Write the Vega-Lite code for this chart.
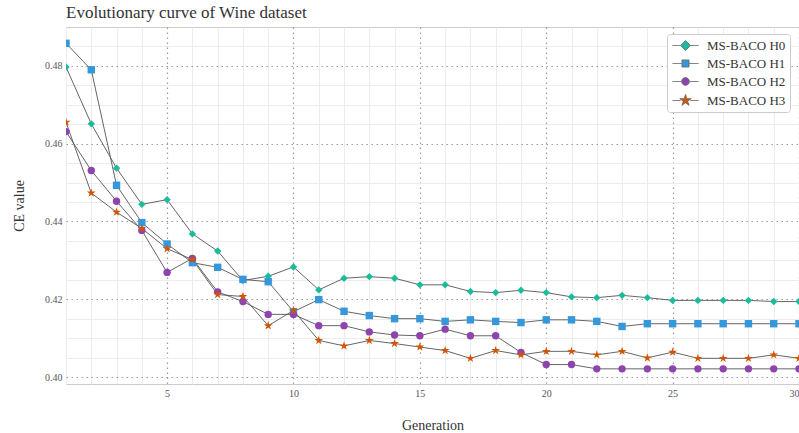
{
  "$schema": "https://vega.github.io/schema/vega-lite/v6.json",
  "width": 733,
  "height": 357,
  "autosize": "none",
  "padding": {"left": 66, "top": 27, "right": 0, "bottom": 49},
  "background": "white",
  "title": {"text": "Evolutionary curve of Wine dataset", "anchor": "start", "frame": "group", "font": "Liberation Serif", "fontSize": 17, "fontWeight": "normal", "color": "#333", "offset": 5},
  "config": {
    "view": {"stroke": "#cccccc", "strokeWidth": 1},
    "axis": {"domain": false, "ticks": false, "labelFont": "Liberation Serif", "labelFontSize": 10, "labelColor": "#555", "titleFont": "Liberation Serif", "titleFontSize": 14, "titleFontWeight": "normal", "titleColor": "#333"}
  },
  "data": {"values": [
    {"g":1,"s":"MS-BACO H0","v":0.4797},{"g":2,"s":"MS-BACO H0","v":0.4651},{"g":3,"s":"MS-BACO H0","v":0.4537},{"g":4,"s":"MS-BACO H0","v":0.4444},{"g":5,"s":"MS-BACO H0","v":0.4456},{"g":6,"s":"MS-BACO H0","v":0.4368},{"g":7,"s":"MS-BACO H0","v":0.4324},{"g":8,"s":"MS-BACO H0","v":0.4248},{"g":9,"s":"MS-BACO H0","v":0.4259},{"g":10,"s":"MS-BACO H0","v":0.4283},
    {"g":11,"s":"MS-BACO H0","v":0.4224},{"g":12,"s":"MS-BACO H0","v":0.4254},{"g":13,"s":"MS-BACO H0","v":0.4258},{"g":14,"s":"MS-BACO H0","v":0.4254},{"g":15,"s":"MS-BACO H0","v":0.4237},{"g":16,"s":"MS-BACO H0","v":0.4237},{"g":17,"s":"MS-BACO H0","v":0.4220},{"g":18,"s":"MS-BACO H0","v":0.4217},{"g":19,"s":"MS-BACO H0","v":0.4223},{"g":20,"s":"MS-BACO H0","v":0.4217},
    {"g":21,"s":"MS-BACO H0","v":0.4206},{"g":22,"s":"MS-BACO H0","v":0.4204},{"g":23,"s":"MS-BACO H0","v":0.4210},{"g":24,"s":"MS-BACO H0","v":0.4204},{"g":25,"s":"MS-BACO H0","v":0.4197},{"g":26,"s":"MS-BACO H0","v":0.4197},{"g":27,"s":"MS-BACO H0","v":0.4197},{"g":28,"s":"MS-BACO H0","v":0.4197},{"g":29,"s":"MS-BACO H0","v":0.4194},{"g":30,"s":"MS-BACO H0","v":0.4194},
    {"g":1,"s":"MS-BACO H1","v":0.4858},{"g":2,"s":"MS-BACO H1","v":0.4790},{"g":3,"s":"MS-BACO H1","v":0.4493},{"g":4,"s":"MS-BACO H1","v":0.4397},{"g":5,"s":"MS-BACO H1","v":0.4342},{"g":6,"s":"MS-BACO H1","v":0.4294},{"g":7,"s":"MS-BACO H1","v":0.4282},{"g":8,"s":"MS-BACO H1","v":0.4251},{"g":9,"s":"MS-BACO H1","v":0.4245},{"g":10,"s":"MS-BACO H1","v":0.4168},
    {"g":11,"s":"MS-BACO H1","v":0.4199},{"g":12,"s":"MS-BACO H1","v":0.4169},{"g":13,"s":"MS-BACO H1","v":0.4158},{"g":14,"s":"MS-BACO H1","v":0.4150},{"g":15,"s":"MS-BACO H1","v":0.4150},{"g":16,"s":"MS-BACO H1","v":0.4143},{"g":17,"s":"MS-BACO H1","v":0.4147},{"g":18,"s":"MS-BACO H1","v":0.4143},{"g":19,"s":"MS-BACO H1","v":0.4140},{"g":20,"s":"MS-BACO H1","v":0.4147},
    {"g":21,"s":"MS-BACO H1","v":0.4147},{"g":22,"s":"MS-BACO H1","v":0.4143},{"g":23,"s":"MS-BACO H1","v":0.4130},{"g":24,"s":"MS-BACO H1","v":0.4137},{"g":25,"s":"MS-BACO H1","v":0.4137},{"g":26,"s":"MS-BACO H1","v":0.4137},{"g":27,"s":"MS-BACO H1","v":0.4137},{"g":28,"s":"MS-BACO H1","v":0.4137},{"g":29,"s":"MS-BACO H1","v":0.4137},{"g":30,"s":"MS-BACO H1","v":0.4137},
    {"g":1,"s":"MS-BACO H2","v":0.4631},{"g":2,"s":"MS-BACO H2","v":0.4531},{"g":3,"s":"MS-BACO H2","v":0.4452},{"g":4,"s":"MS-BACO H2","v":0.4377},{"g":5,"s":"MS-BACO H2","v":0.4269},{"g":6,"s":"MS-BACO H2","v":0.4305},{"g":7,"s":"MS-BACO H2","v":0.4219},{"g":8,"s":"MS-BACO H2","v":0.4194},{"g":9,"s":"MS-BACO H2","v":0.4161},{"g":10,"s":"MS-BACO H2","v":0.4161},
    {"g":11,"s":"MS-BACO H2","v":0.4132},{"g":12,"s":"MS-BACO H2","v":0.4132},{"g":13,"s":"MS-BACO H2","v":0.4116},{"g":14,"s":"MS-BACO H2","v":0.4108},{"g":15,"s":"MS-BACO H2","v":0.4106},{"g":16,"s":"MS-BACO H2","v":0.4123},{"g":17,"s":"MS-BACO H2","v":0.4106},{"g":18,"s":"MS-BACO H2","v":0.4106},{"g":19,"s":"MS-BACO H2","v":0.4063},{"g":20,"s":"MS-BACO H2","v":0.4032},
    {"g":21,"s":"MS-BACO H2","v":0.4032},{"g":22,"s":"MS-BACO H2","v":0.4021},{"g":23,"s":"MS-BACO H2","v":0.4021},{"g":24,"s":"MS-BACO H2","v":0.4021},{"g":25,"s":"MS-BACO H2","v":0.4021},{"g":26,"s":"MS-BACO H2","v":0.4021},{"g":27,"s":"MS-BACO H2","v":0.4021},{"g":28,"s":"MS-BACO H2","v":0.4021},{"g":29,"s":"MS-BACO H2","v":0.4021},{"g":30,"s":"MS-BACO H2","v":0.4021},
    {"g":1,"s":"MS-BACO H3","v":0.4655},{"g":2,"s":"MS-BACO H3","v":0.4473},{"g":3,"s":"MS-BACO H3","v":0.4424},{"g":4,"s":"MS-BACO H3","v":0.4382},{"g":5,"s":"MS-BACO H3","v":0.4330},{"g":6,"s":"MS-BACO H3","v":0.4302},{"g":7,"s":"MS-BACO H3","v":0.4212},{"g":8,"s":"MS-BACO H3","v":0.4207},{"g":9,"s":"MS-BACO H3","v":0.4132},{"g":10,"s":"MS-BACO H3","v":0.4171},
    {"g":11,"s":"MS-BACO H3","v":0.4094},{"g":12,"s":"MS-BACO H3","v":0.4080},{"g":13,"s":"MS-BACO H3","v":0.4094},{"g":14,"s":"MS-BACO H3","v":0.4086},{"g":15,"s":"MS-BACO H3","v":0.4077},{"g":16,"s":"MS-BACO H3","v":0.4068},{"g":17,"s":"MS-BACO H3","v":0.4048},{"g":18,"s":"MS-BACO H3","v":0.4068},{"g":19,"s":"MS-BACO H3","v":0.4057},{"g":20,"s":"MS-BACO H3","v":0.4066},
    {"g":21,"s":"MS-BACO H3","v":0.4066},{"g":22,"s":"MS-BACO H3","v":0.4057},{"g":23,"s":"MS-BACO H3","v":0.4066},{"g":24,"s":"MS-BACO H3","v":0.4049},{"g":25,"s":"MS-BACO H3","v":0.4064},{"g":26,"s":"MS-BACO H3","v":0.4048},{"g":27,"s":"MS-BACO H3","v":0.4048},{"g":28,"s":"MS-BACO H3","v":0.4048},{"g":29,"s":"MS-BACO H3","v":0.4057},{"g":30,"s":"MS-BACO H3","v":0.4048}
  ]},
  "encoding": {
    "x": {"field": "g", "type": "quantitative", "title": "Generation",
      "scale": {"domain": [1, 30], "nice": false, "zero": false},
      "axis": {"values": [1,2,3,4,5,6,7,8,9,10,11,12,13,14,15,16,17,18,19,20,21,22,23,24,25,26,27,28,29,30],
        "labelExpr": "datum.value % 5 === 0 ? datum.label : ''",
        "labelPadding": 4, "titlePadding": 20,
        "gridColor": {"condition": {"test": "datum.value % 5 === 0", "value": "#9a9a9a"}, "value": "#ececec"},
        "gridDash": {"condition": {"test": "datum.value % 5 === 0", "value": [1.5, 3.5]}, "value": []},
        "gridWidth": {"condition": {"test": "datum.value % 5 === 0", "value": 1.2}, "value": 1}}},
    "y": {"field": "v", "type": "quantitative", "title": "CE value",
      "scale": {"domain": [0.3982, 0.490], "nice": false, "zero": false},
      "axis": {"values": [0.400,0.405,0.410,0.415,0.420,0.425,0.430,0.435,0.440,0.445,0.450,0.455,0.460,0.465,0.470,0.475,0.480,0.485],
        "labelExpr": "abs(datum.value*50 - round(datum.value*50)) < 0.001 ? format(datum.value, '.2f') : ''",
        "labelPadding": 4, "titlePadding": 18,
        "gridColor": {"condition": {"test": "abs(datum.value*50 - round(datum.value*50)) < 0.001", "value": "#9a9a9a"}, "value": "#ececec"},
        "gridDash": {"condition": {"test": "abs(datum.value*50 - round(datum.value*50)) < 0.001", "value": [1.5, 3.5]}, "value": []},
        "gridWidth": {"condition": {"test": "abs(datum.value*50 - round(datum.value*50)) < 0.001", "value": 1.2}, "value": 1}}},
    "color": {"field": "s", "type": "nominal", "title": null,
      "scale": {"domain": ["MS-BACO H0","MS-BACO H1","MS-BACO H2","MS-BACO H3"], "range": ["#1abc9c","#3498db","#8e44ad","#d35400"]},
      "legend": {"orient": "none", "legendX": 601, "legendY": 7, "fillColor": "white", "strokeColor": "#cccccc", "cornerRadius": 3, "padding": 4,
        "labelFont": "Liberation Serif", "labelFontSize": 13, "labelColor": "#333", "symbolSize": 200, "symbolOffset": 7, "labelOffset": 14, "rowPadding": 3,
        "symbolStrokeColor": "#666666", "symbolStrokeWidth": 0.8}}
  },
  "layer": [
    {"mark": {"type": "line", "strokeWidth": 0.9, "clip": true},
     "encoding": {"color": {"value": "#555555"}, "detail": {"field": "s", "type": "nominal"}}},
    {"transform": [{"filter": "datum.s === 'MS-BACO H0'"}],
     "mark": {"type": "point", "filled": true, "opacity": 1, "size": 55, "shape": "diamond", "clip": true}},
    {"transform": [{"filter": "datum.s === 'MS-BACO H1'"}],
     "mark": {"type": "point", "filled": true, "opacity": 1, "size": 55, "shape": "square", "clip": true}},
    {"transform": [{"filter": "datum.s === 'MS-BACO H2'"}],
     "mark": {"type": "point", "filled": true, "opacity": 1, "size": 55, "shape": "circle", "clip": true}},
    {"transform": [{"filter": "datum.s === 'MS-BACO H3'"}],
     "mark": {"type": "point", "filled": true, "opacity": 1, "size": 55, "shape": "M0,-1.25L0.281,-0.386L1.189,-0.386L0.454,0.148L0.735,1.011L0,0.478L-0.735,1.011L-0.454,0.148L-1.189,-0.386L-0.281,-0.386Z", "clip": true}},
    {"transform": [{"filter": "false"}],
     "mark": {"type": "point", "filled": true, "opacity": 1, "clip": true},
     "encoding": {"shape": {"field": "s", "type": "nominal", "legend": null,
       "scale": {"domain": ["MS-BACO H0","MS-BACO H1","MS-BACO H2","MS-BACO H3"],
         "range": ["M-1.85,0H-0.7M0.7,0H1.85M0,-0.7L0.7,0L0,0.7L-0.7,0Z", "M-1.85,0H-0.5M0.5,0H1.85M-0.5,-0.5H0.5V0.5H-0.5Z", "M-1.85,0H-0.55M0.55,0H1.85M0.55,0A0.55,0.55,0,1,1,-0.55,0A0.55,0.55,0,1,1,0.55,0Z", "M-1.85,0H-0.7M0.7,0H1.85M0,-0.85L0.19,-0.263L0.808,-0.263L0.309,0.1L0.5,0.688L0,0.325L-0.5,0.688L-0.309,0.1L-0.808,-0.263L-0.19,-0.263Z"]}}}}
  ]
}
